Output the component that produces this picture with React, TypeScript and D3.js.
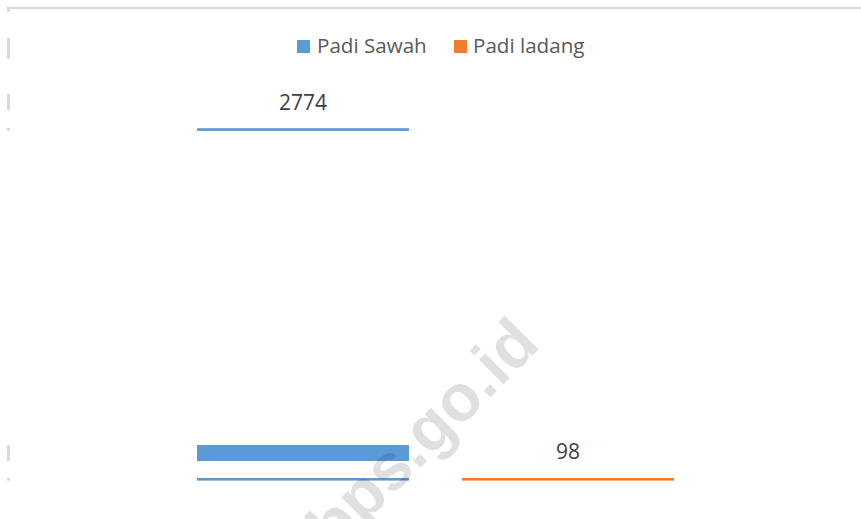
import React from "react";
import * as d3 from "d3";

const categories = ["Padi Sawah", "Padi ladang"];
const values = [2774, 98];
const colors = ["#5B9BD5", "#ED7D31"];
// filled part of the Padi Sawah bar visible in the picture (value units)
const sawahFillRange = [145, 272];

const W = 861;
const H = 519;

export default function App() {
  const x = d3.scaleBand<string>().domain(categories).range([170.5, 700.5]).paddingInner(0.2).paddingOuter(0.1);
  const y = d3.scaleLinear().domain([0, values[0]]).range([479.3, 129.5]);
  const bw = x.bandwidth();

  const data = categories.map((c, i) => ({ c, v: values[i], color: colors[i] }));
  const topEdge = (d: { v: number }) => (d.v > values[0] * 0.1 ? y(d.v) : y(0));

  const fillTop = y(sawahFillRange[1]);
  const fillBot = y(sawahFillRange[0]);

  const leftMarks = [
    [38, 59],
    [94, 110],
    [y(values[0]) - 1.5, y(values[0]) + 1.5],
    [fillTop, fillBot],
    [y(0) - 1.3, y(0) + 1.3],
  ];

  return (
    <svg width={W} height={H} style={{ position: "absolute", left: 0, top: 0, background: "#fff" }} fontFamily="'Open Sans', 'Noto Sans', sans-serif">
      <rect x={0} y={0} width={W} height={H} fill="#fff" />
      {/* frame fragments */}
      <rect x={7} y={7} width={W - 7} height={2} fill="#d9d9d9" />
      <rect x={7} y={7} width={3} height={5} fill="#d9d9d9" />
      {leftMarks.map((m, i) => (
        <rect key={i} x={7} y={m[0]} width={3} height={m[1] - m[0]} fill="#d9d9d9" />
      ))}

      {/* legend */}
      <g>
        <rect x={297} y={40} width={13} height={13} fill={colors[0]} />
        <text x={317} y={53} fontSize={20.6} fill="#595959">{categories[0]}</text>
        <rect x={454} y={40} width={13} height={13} fill={colors[1]} />
        <text x={473} y={53} fontSize={20.6} fill="#595959">{categories[1]}</text>
      </g>

      {/* bars */}
      {data.map((d, i) => (
        <g key={d.c}>
          {d.v > values[0] * 0.1 && (
            <rect x={x(d.c)} y={y(d.v) - 1.3} width={bw} height={2.7} fill={d.color} />
          )}
          <rect x={x(d.c)} y={y(0) - 1.3} width={bw} height={2.6} fill={d.color} />
          <text x={(x(d.c) as number) + bw / 2} y={topEdge(d) - 20} textAnchor="middle" fontSize={21} fill="#404040">
            {d.v}
          </text>
        </g>
      ))}
      <rect x={x(categories[0])} y={fillTop} width={bw} height={fillBot - fillTop} fill={colors[0]} />

      {/* watermark */}
      <text
        x={0}
        y={0}
        transform="translate(438,450) rotate(-45)"
        textAnchor="middle"
        fontFamily="'Liberation Sans', Arial, sans-serif"
        fontWeight="bold"
        fontSize={66}
        fill="#000"
        fillOpacity={0.12}
      >
        bps.go.id
      </text>
    </svg>
  );
}
